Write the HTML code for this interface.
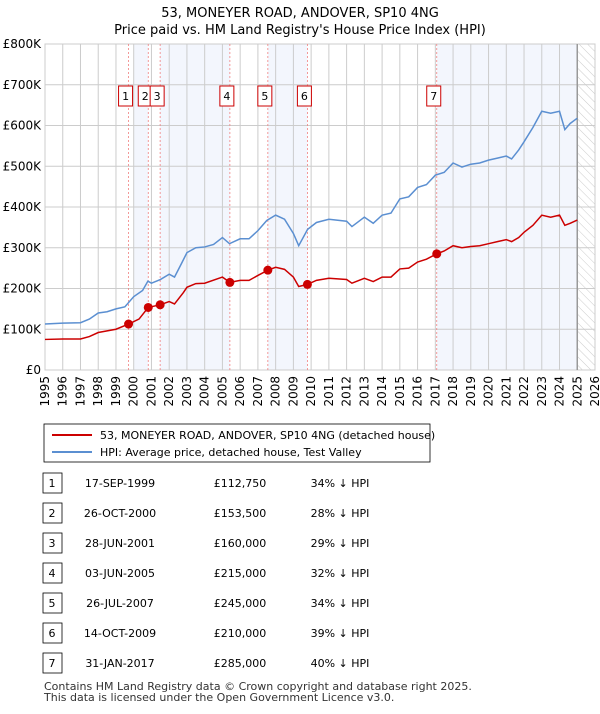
<!DOCTYPE html>
<html><head><meta charset="utf-8"><style>
body{margin:0;width:600px;height:710px;background:#fff;font-family:"DejaVu Sans","Liberation Sans",sans-serif;overflow:hidden}
svg text{font-family:"DejaVu Sans","Liberation Sans",sans-serif}
</style></head><body>
<svg id="c" width="600" height="710">
<defs><pattern id="h" width="6" height="6" patternUnits="userSpaceOnUse" patternTransform="rotate(-45)"><line x1="0" y1="0" x2="0" y2="6" stroke="#ccc" stroke-width="1"/></pattern></defs>
<text x="300" y="17" text-anchor="middle" font-size="13">53, MONEYER ROAD, ANDOVER, SP10 4NG</text>
<text x="300" y="34" text-anchor="middle" font-size="13">Price paid vs. HM Land Registry's House Price Index (HPI)</text>
<g id="plot"></g>
<rect x="44" y="424" width="386" height="38" fill="#fff" stroke="#000" stroke-width="0.8"/>
<line x1="52" y1="435" x2="92" y2="435" stroke="#cc0000" stroke-width="2"/>
<text x="100" y="439" font-size="11">53, MONEYER ROAD, ANDOVER, SP10 4NG (detached house)</text>
<line x1="52" y1="452" x2="92" y2="452" stroke="#5b8fd1" stroke-width="2"/>
<text x="100" y="456" font-size="11">HPI: Average price, detached house, Test Valley</text>
<g id="tbl"></g>
<text x="44" y="690" font-size="11" fill="#333">Contains HM Land Registry data © Crown copyright and database right 2025.</text>
<text x="44" y="701" font-size="11" fill="#333">This data is licensed under the Open Government Licence v3.0.</text>
</svg>
<script>
const hpiYears=[1995,1996,1997,1997.5,1998,1998.5,1999,1999.5,2000,2000.5,2000.8,2001,2001.5,2002,2002.3,2002.7,2003,2003.5,2004,2004.5,2005,2005.4,2006,2006.5,2007,2007.5,2008,2008.5,2009,2009.3,2009.8,2010.3,2011,2012,2012.3,2013,2013.5,2014,2014.5,2015,2015.5,2016,2016.5,2017,2017.5,2018,2018.5,2019,2019.5,2020,2020.5,2021,2021.3,2021.7,2022,2022.5,2023,2023.5,2024,2024.3,2024.6,2025];
const hpiValues=[113,115,116,125,140,143,150,155,180,195,218,213,222,235,228,262,288,300,302,308,325,310,322,322,342,367,380,370,335,305,345,362,370,365,352,375,360,380,385,420,425,448,455,478,485,508,498,505,508,515,520,525,518,540,560,595,635,630,635,590,605,618];
const pricePaidYears=[1995,1996,1997,1997.5,1998,1999,1999.71,2000.3,2000.82,2001.49,2002,2002.3,2002.8,2003,2003.5,2004,2005,2005.42,2006,2006.5,2007,2007.56,2008,2008.5,2009,2009.3,2009.79,2010.3,2011,2012,2012.3,2013,2013.5,2014,2014.5,2015,2015.5,2016,2016.5,2017.08,2017.5,2018,2018.5,2019,2019.5,2020,2020.5,2021,2021.3,2021.7,2022,2022.5,2023,2023.5,2024,2024.3,2024.6,2025];
const pricePaidValues=[75,76,76,82,92,100,112.75,125,153.5,160,168,162,190,203,212,213,228,215,220,220,232,245,252,247,228,205,210,220,225,222,213,225,217,228,228,248,250,265,272,285,292,305,300,303,305,310,315,320,315,325,338,355,380,375,380,355,360,368];
const saleYears=[1999.71,2000.82,2001.49,2005.42,2007.56,2009.79,2017.08];
const saleValues=[112.75,153.5,160,215,245,210,285];
const saleDates=["17-SEP-1999","26-OCT-2000","28-JUN-2001","03-JUN-2005","26-JUL-2007","14-OCT-2009","31-JAN-2017"];
const salePrices=["£112,750","£153,500","£160,000","£215,000","£245,000","£210,000","£285,000"];
const saleDiffs=["34% ↓ HPI","28% ↓ HPI","29% ↓ HPI","32% ↓ HPI","34% ↓ HPI","39% ↓ HPI","40% ↓ HPI"];
const yTicks=[0,100,200,300,400,500,600,700,800];
const yTickLabels=["£0","£100K","£200K","£300K","£400K","£500K","£600K","£700K","£800K"];
const xTicks=[1995,1996,1997,1998,1999,2000,2001,2002,2003,2004,2005,2006,2007,2008,2009,2010,2011,2012,2013,2014,2015,2016,2017,2018,2019,2020,2021,2022,2023,2024,2025,2026];

const L=45,R=595,T=44,B=370;
const X=y=>L+(y-1995)/(2026-1995)*(R-L);
const Y=v=>B-v/800*(B-T);
const NS="http://www.w3.org/2000/svg";
const plot=document.getElementById('plot');
function mk(tag,attrs,parent){const e=document.createElementNS(NS,tag);for(const k in attrs)e.setAttribute(k,attrs[k]);(parent||plot).appendChild(e);return e;}

let r=mk('rect',{x:L,y:T,width:R-L,height:B-T,fill:'#fff'});


const bands=[[2000,saleYears[1]],[saleYears[2],saleYears[3]],[saleYears[4],saleYears[5]],[saleYears[6],2025]];
bands.forEach(b=>{let s=mk('rect',{x:X(b[0]),y:T,width:X(b[1])-X(b[0]),height:B-T,fill:'#f3f6fd'});

});
let hz=mk('rect',{x:X(2025),y:T,width:R-X(2025),height:B-T,fill:'url(#h)'});


xTicks.forEach(t=>{let g=mk('line',{x1:X(t),x2:X(t),y1:T,y2:B,stroke:'#ccc','stroke-width':1});


let tx=mk('text',{x:0,y:0,'font-size':12,'text-anchor':'end',transform:`translate(${X(t)+4},${B+6}) rotate(-90)`});tx.textContent=t;

});
yTicks.forEach((t,i)=>{let g=mk('line',{x1:L,x2:R,y1:Y(t),y2:Y(t),stroke:'#ccc','stroke-width':1});


let tx=mk('text',{x:L-4,y:Y(t)+4,'font-size':12,'text-anchor':'end'});tx.textContent=yTickLabels[i];

});
let bd=mk('rect',{x:L,y:T,width:R-L,height:B-T,fill:'none',stroke:'#ccc'});


let nl=mk('line',{x1:X(2025),x2:X(2025),y1:T,y2:B,stroke:'#999','stroke-width':1.5});


saleYears.forEach((y,i)=>{let l=mk('line',{x1:X(y),x2:X(y),y1:T,y2:B,stroke:'#f08080','stroke-width':0.8,'stroke-dasharray':'2,2'});


let bx=mk('rect',{x:X(y)-10,y:86,width:14,height:20,fill:'#fff',stroke:'#cc0000'});


let t=mk('text',{x:X(y)-3,y:100,'font-size':11,'text-anchor':'middle'});t.textContent=i+1;

});
let hp=mk('polyline',{points:hpiYears.map((y,i)=>X(y)+','+Y(hpiValues[i])).join(' '),fill:'none',stroke:'#5b8fd1','stroke-width':1.5});


let pp=mk('polyline',{points:pricePaidYears.map((y,i)=>X(y)+','+Y(pricePaidValues[i])).join(' '),fill:'none',stroke:'#cc0000','stroke-width':1.5});


saleYears.forEach((y,i)=>{let c=mk('circle',{cx:X(y),cy:Y(saleValues[i]),r:4.5,fill:'#cc0000'});

});

const tbl=document.getElementById('tbl');
saleDates.forEach((d,i)=>{const y=483+i*30;
let b=mk('rect',{x:43,y:y-10,width:19,height:20,fill:'#fff',stroke:'#000','stroke-width':0.8},tbl);


const cells=[[52,String(i+1),'middle'],[120,d,'middle'],[240,salePrices[i],'middle'],[340,saleDiffs[i],'middle']];
cells.forEach(c=>{let t=mk('text',{x:c[0],y:y+4,'font-size':11,'text-anchor':c[2]},tbl);t.textContent=c[1];

});});
</script>
</body></html>
